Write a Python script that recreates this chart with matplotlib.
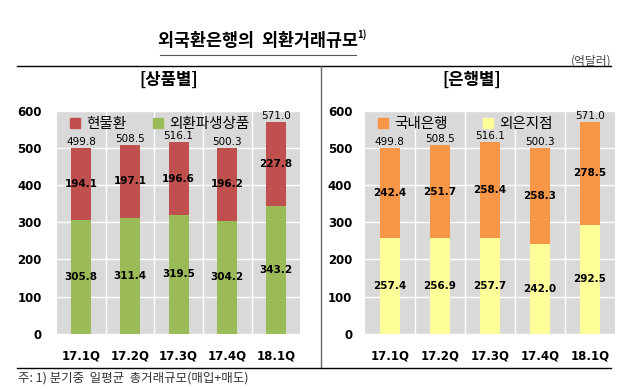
import numpy as np
import matplotlib.pyplot as plt
from matplotlib.lines import Line2D

plt.rcParams['font.family'] = ['Noto Sans CJK KR', 'DejaVu Sans']
NUM = 'DejaVu Sans'

quarters = ['17.1Q', '17.2Q', '17.3Q', '17.4Q', '18.1Q']
# 상품별
spot = [194.1, 197.1, 196.6, 196.2, 227.8]        # 현물환
deriv = [305.8, 311.4, 319.5, 304.2, 343.2]       # 외환파생상품
# 은행별
domestic = [242.4, 251.7, 258.4, 258.3, 278.5]    # 국내은행
foreign = [257.4, 256.9, 257.7, 242.0, 292.5]     # 외은지점
totals = [499.8, 508.5, 516.1, 500.3, 571.0]

fig = plt.figure(figsize=(6.4, 3.89), dpi=100)
fig.patch.set_facecolor('white')


def draw(ax, bottom_vals, top_vals, c_bottom, c_top, name_bottom, name_top, ypad, colsp):
    x = np.arange(len(quarters))
    ax.set_facecolor('#d9d9d9')
    ax.bar(x, bottom_vals, width=0.41, color=c_bottom, zorder=3)
    ax.bar(x, top_vals, width=0.41, bottom=bottom_vals, color=c_top, zorder=3)
    for i in x:
        b = bottom_vals[i]
        t = top_vals[i]
        ax.text(i, b / 2, f'{b:.1f}', ha='center', va='center', fontsize=7.5,
                fontweight='bold', family=NUM, zorder=4)
        ax.text(i, b + t / 2, f'{t:.1f}', ha='center', va='center', fontsize=7.5,
                fontweight='bold', family=NUM, zorder=4)
        ax.text(i, totals[i] + 3, f'{totals[i]:.1f}', ha='center', va='bottom',
                fontsize=7.5, family=NUM, zorder=4)
    ax.set_xlim(-0.5, len(quarters) - 0.5)
    ax.set_ylim(0, 600)
    ax.set_yticks(range(0, 601, 100))
    ax.set_xticks(x)
    ax.set_xticklabels(quarters, fontweight='bold', fontsize=8.5, family=NUM)
    for lab in ax.get_yticklabels():
        lab.set_fontweight('bold')
        lab.set_fontsize(8.5)
        lab.set_family(NUM)
    ax.tick_params(length=0)
    ax.tick_params(axis='x', pad=11)
    ax.tick_params(axis='y', pad=ypad)
    ax.grid(axis='y', color='white', linewidth=1, zorder=1)
    for xv in np.arange(0.5, len(quarters) - 0.5, 1):
        ax.axvline(xv, color='white', linewidth=1, zorder=1)
    for s in ax.spines.values():
        s.set_visible(False)
    handles = [Line2D([], [], marker='s', linestyle='none', color=c_top, markersize=6.5),
               Line2D([], [], marker='s', linestyle='none', color=c_bottom, markersize=6.5)]
    ax.legend(handles, [name_top, name_bottom], loc='upper left', ncol=2,
              frameon=False, fontsize=10.5, handletextpad=0.25, columnspacing=colsp,
              handlelength=1.0, bbox_to_anchor=(0.02, 1.0), borderaxespad=0)


ax1 = fig.add_axes([0.089, 0.142, 0.38, 0.573])
draw(ax1, deriv, spot, '#9bbb59', '#c0504d', '외환파생상품', '현물환', 11, 1.7)
ax2 = fig.add_axes([0.570, 0.142, 0.391, 0.573])
draw(ax2, foreign, domestic, '#ffff99', '#f79646', '외은지점', '국내은행', 9, 2.3)

# title and frame lines
fig.text(0.403, 0.895, '외국환은행의  외환거래규모', ha='center', va='center',
         fontsize=12.5, fontweight='bold')
fig.text(0.558, 0.91, '1)', ha='left', va='center', fontsize=7, fontweight='bold')
fig.add_artist(Line2D([0.25, 0.556], [0.858, 0.858], color='#555555', linewidth=0.8))
fig.text(0.956, 0.843, '(억달러)', ha='right', va='center', fontsize=8.5, color='#444444')
fig.add_artist(Line2D([0.027, 0.955], [0.83, 0.83], color='black', linewidth=1))
fig.add_artist(Line2D([0.502, 0.502], [0.83, 0.055], color='#666666', linewidth=1))
fig.add_artist(Line2D([0.027, 0.955], [0.053, 0.053], color='black', linewidth=1))
fig.text(0.264, 0.795, '[상품별]', ha='center', va='center', fontsize=12, fontweight='bold')
fig.text(0.737, 0.795, '[은행별]', ha='center', va='center', fontsize=12, fontweight='bold')
fig.text(0.028, 0.027, '주: 1) 분기중  일평균  총거래규모(매입+매도)', ha='left', va='center',
         fontsize=9, color='#333333')

plt.savefig('out.png', dpi=100)
